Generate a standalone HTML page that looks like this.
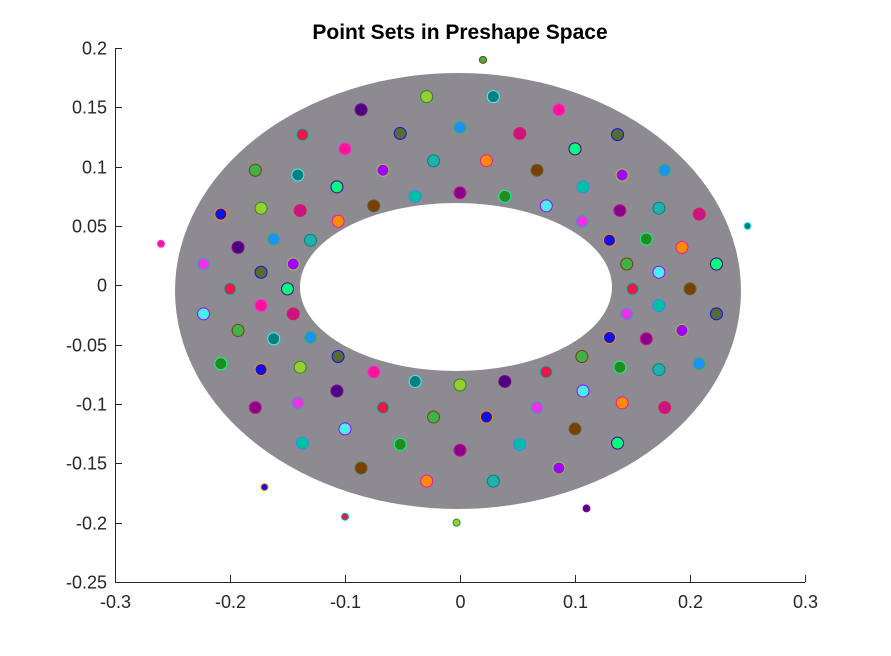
<!DOCTYPE html>
<html><head><meta charset="utf-8">
<style>
html,body{margin:0;padding:0;background:#fff;}
svg{display:block;font-family:"Liberation Sans",sans-serif;}
</style></head>
<body>
<svg id="chart" width="891" height="656" viewBox="0 0 891 656">
<rect width="891" height="656" fill="#fff"/>
<text x="460" y="39" text-anchor="middle" font-size="21" font-weight="bold" fill="#000">Point Sets in Preshape Space</text>
<path fill-rule="evenodd" fill="#8e8a92" d="M175,291 a283,218 0 1,0 566,0 a283,218 0 1,0 -566,0 Z M300,287 a156,84 0 1,0 312,0 a156,84 0 1,0 -312,0 Z"/>
<g id="points"></g>
<g id="axes"></g>
</svg>
<script>
const xs=[.150,.145,.130,.106,.075,.039,0,-.039,-.075,-.106,-.130,-.145,-.150,-.145,-.130,-.106,-.075,-.039,0,.039,.075,.106,.130,.145,
.173,.162,.139,.107,.067,.023,-.023,-.067,-.107,-.139,-.162,-.173,-.173,-.162,-.139,-.107,-.067,-.023,.023,.067,.107,.139,.162,.173,
.200,.193,.173,.141,.100,.052,0,-.052,-.100,-.141,-.173,-.193,-.200,-.193,-.173,-.141,-.100,-.052,0,.052,.100,.141,.173,.193,
.223,.208,.178,.137,.086,.029,-.029,-.086,-.137,-.178,-.208,-.223,-.223,-.208,-.178,-.137,-.086,-.029,.029,.086,.137,.178,.208,.223,
-.26,.25,-.003,.11,-.10,.02,-.17];
const ys=[-.003,.018,.038,.054,.067,.075,.078,.075,.067,.054,.038,.018,-.003,-.024,-.044,-.060,-.073,-.081,-.084,-.081,-.073,-.060,-.044,-.024,
.011,.039,.063,.083,.097,.105,.105,.097,.083,.063,.039,.011,-.017,-.045,-.069,-.089,-.103,-.111,-.111,-.103,-.089,-.069,-.045,-.017,
-.003,.032,.065,.093,.115,.128,.133,.128,.115,.093,.065,.032,-.003,-.038,-.071,-.099,-.121,-.134,-.139,-.134,-.121,-.099,-.071,-.038,
.018,.060,.097,.127,.148,.159,.159,.148,.127,.097,.060,.018,-.024,-.066,-.103,-.133,-.154,-.165,-.165,-.154,-.133,-.103,-.066,-.024,
.035,.05,-.2,-.188,-.195,.19,-.17];
const xTicks=[-0.3,-0.2,-0.1,0,0.1,0.2,0.3];
const xTickLabels=["-0.3","-0.2","-0.1","0","0.1","0.2","0.3"];
const yTicks=[0.2,0.15,0.1,0.05,0,-0.05,-0.1,-0.15,-0.2,-0.25];
const yTickLabels=["0.2","0.15","0.1","0.05","0","-0.05","-0.1","-0.15","-0.2","-0.25"];
const palette=["#e6194b","#3cb44b","#1010e0","#f032e6","#46f0f0","#228b22","#8b008b","#00c0a0","#7b3f00","#ff8c00","#20b2aa","#a000ff","#00ff7f","#c71585","#1e90ff","#556b2f","#ff1493","#008080","#9acd32","#4b0082"];
const NS="http://www.w3.org/2000/svg";
const X0=115,X1=805,Y0=582,Y1=48;
function sx(v){return X0+(v-(-0.3))/(0.6)*(X1-X0);}
function sy(v){return Y0-(v-(-0.25))/(0.45)*(Y0-Y1);}
const pg=document.getElementById('points');
for(let i=0;i<xs.length;i++){
  const c=document.createElementNS(NS,'circle');
  c.setAttribute('cx',sx(xs[i]));c.setAttribute('cy',sy(ys[i]));
  c.setAttribute('r',i>=96?3.5:6);
  c.setAttribute('fill',palette[i%palette.length]);
  c.setAttribute('stroke',palette[(i+7)%palette.length]);
  c.setAttribute('stroke-width','1');
  
  
  pg.appendChild(c);
}
const ag=document.getElementById('axes');
function line(x1,y1,x2,y2,name){
  const l=document.createElementNS(NS,'line');
  l.setAttribute('x1',x1);l.setAttribute('y1',y1);l.setAttribute('x2',x2);l.setAttribute('y2',y2);
  l.setAttribute('stroke','#262626');l.setAttribute('stroke-width','1');
  
  
  ag.appendChild(l);
}
function text(x,y,s,anchor,name){
  const t=document.createElementNS(NS,'text');
  t.setAttribute('x',x);t.setAttribute('y',y);t.setAttribute('text-anchor',anchor);
  t.setAttribute('font-size','18');t.setAttribute('fill','#262626');
  t.textContent=s;
  
  
  ag.appendChild(t);
}
line(X0+.5,Y1,X0+.5,Y0+.5,'y-axis-line');
line(X0,Y0+.5,X1,Y0+.5,'x-axis-line');
xTicks.forEach((v,i)=>{const x=Math.round(sx(v))+.5;line(x,Y0,x,Y0-7,'x-tick');text(x,Y0+26,xTickLabels[i],'middle','x-tick-label');});
yTicks.forEach((v,i)=>{const y=Math.round(sy(v))+.5;line(X0,y,X0+7,y,'y-tick');text(X0-8,y+6,yTickLabels[i],'end','y-tick-label');});
</script>
</body></html>
